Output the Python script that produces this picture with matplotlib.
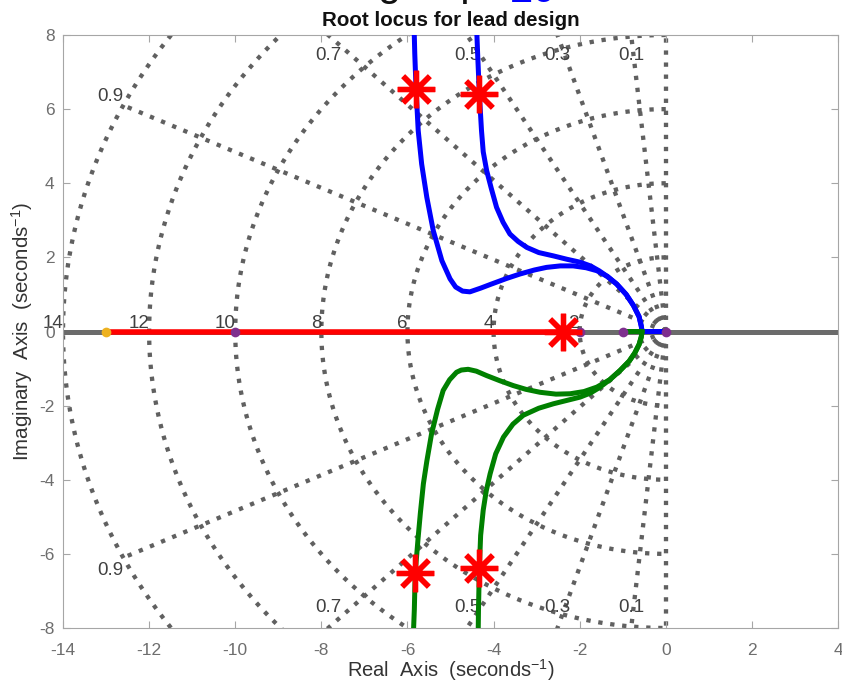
import numpy as np
import matplotlib
matplotlib.use('Agg')
import matplotlib.pyplot as plt

plt.rcParams['font.family'] = ['Liberation Sans', 'DejaVu Sans']
plt.rcParams['mathtext.fontset'] = 'custom'
plt.rcParams['mathtext.rm'] = 'Liberation Sans'
plt.rcParams['mathtext.default'] = 'regular'
plt.rcParams['axes.unicode_minus'] = False

# ---------------- data ----------------
title = 'Root locus for lead design'
xlabel = 'Real  Axis  (seconds$^{-1}$)'
ylabel = 'Imaginary  Axis  (seconds$^{-1}$)'
x_ticks = [-14, -12, -10, -8, -6, -4, -2, 0, 2, 4]
y_ticks = [-8, -6, -4, -2, 0, 2, 4, 6, 8]

zeta_values = [0.0, 0.1, 0.3, 0.5, 0.7, 0.9]
zeta_labels = ['', '0.1', '0.3', '0.5', '0.7', '0.9']
wn_values = [2, 4, 6, 8, 10, 12, 14]
wn_labels = ['2', '4', '6', '8', '10', '12', '14']

# upper (blue) branches: from the pole at 0 to the top
blue_a_x = [0.0, -0.55, -0.57, -0.62, -0.75, -0.92, -1.14, -1.35, -1.60, -1.85, -2.15, -2.45,
            -2.77, -3.05, -3.39, -3.70, -4.05, -4.30, -4.55, -4.72, -4.88, -5.01, -5.20,
            -5.40, -5.55, -5.67, -5.75, -5.80, -5.83, -5.85]
blue_a_y = [0.0, 0.0, 0.15, 0.40, 0.70, 1.00, 1.28, 1.48, 1.64, 1.72, 1.77, 1.77,
            1.73, 1.66, 1.55, 1.43, 1.28, 1.17, 1.07, 1.09, 1.20, 1.42, 1.91,
            2.72, 3.62, 4.52, 5.42, 6.55, 7.50, 8.40]
blue_b_x = [-0.55, -0.57, -0.62, -0.75, -0.92, -1.14, -1.35, -1.55, -1.75, -1.99, -2.30, -2.61,
            -2.95, -3.23, -3.43, -3.62, -3.78, -3.93, -4.05, -4.16, -4.24, -4.28, -4.33,
            -4.37, -4.40]
blue_b_y = [0.0, 0.15, 0.40, 0.70, 1.00, 1.28, 1.48, 1.64, 1.77, 1.87, 1.95, 2.04,
            2.13, 2.27, 2.43, 2.63, 2.95, 3.35, 3.85, 4.34, 4.85, 5.42, 6.41,
            7.50, 8.40]

# lower (green) branches: from the pole at -1 to the bottom
green_a_x = [-1.0, -0.55, -0.57, -0.62, -0.72, -0.85, -1.06, -1.30, -1.60, -1.90, -2.22, -2.55,
             -2.92, -3.25, -3.54, -3.85, -4.16, -4.40, -4.59, -4.75, -4.86, -5.02, -5.17,
             -5.30, -5.44, -5.55, -5.63, -5.70, -5.75, -5.82, -5.84, -5.87]
green_a_y = [0.0, 0.0, -0.15, -0.35, -0.58, -0.80, -1.05, -1.30, -1.50, -1.62, -1.68, -1.69,
             -1.64, -1.56, -1.46, -1.33, -1.19, -1.07, -1.02, -1.04, -1.10, -1.30, -1.59,
             -2.10, -2.76, -3.50, -4.11, -4.90, -5.54, -6.52, -7.50, -8.40]
green_b_x = [-0.55, -0.57, -0.62, -0.72, -0.85, -1.06, -1.30, -1.55, -1.75, -1.99, -2.30, -2.61,
             -2.95, -3.31, -3.55, -3.77, -3.95, -4.08, -4.17, -4.24, -4.30, -4.33, -4.35, -4.36]
green_b_y = [0.0, -0.15, -0.35, -0.58, -0.80, -1.05, -1.30, -1.52, -1.66, -1.77, -1.86, -1.95,
             -2.07, -2.26, -2.50, -2.85, -3.30, -3.84, -4.30, -4.82, -5.50, -6.39, -7.50, -8.40]

# real-axis branch (red)
red_x = [-13.0, -2.0]
red_y = [0.0, 0.0]

# open-loop markers
purple_x = [-10.0, -2.0, -1.0, 0.0]
orange_x = [-13.0]

# selected closed-loop poles
cl_x = [-5.80, -4.33, -2.39, -5.82, -4.33]
cl_y = [6.55, 6.41, 0.0, -6.52, -6.39]

# ---------------- styles ----------------
GRID_C = '#606060'
TXT_C = '#404040'
TICK_C = '#6e6e6e'
SPINE_C = '#a6a6a6'
DOT = (0, (1, 1.8))
R_MAX = 14.0
GL_FS = 13.5

fig = plt.figure(figsize=(8.42, 6.83), dpi=100)
ax = fig.add_axes([63 / 842, 55 / 683, 775 / 842, 593 / 683])
ax.set_xlim(-14, 4)
ax.set_ylim(-8, 8)

# damping-ratio rays
for z, lab in zip(zeta_values, zeta_labels):
    th = np.arccos(z)
    for s in (1, -1):
        xe, ye = -R_MAX * np.cos(th), s * R_MAX * np.sin(th)
        ax.plot([0, xe], [0, ye], linestyle=DOT, lw=3.1, color=GRID_C,
                dash_capstyle='butt', zorder=1)
        if not lab:
            continue
        if abs(ye) <= 7.0:
            ax.text(xe, ye + s * 0.12, lab, ha='right',
                    va='baseline' if s > 0 else 'top', fontsize=GL_FS, color=TXT_C, zorder=1.5)
        else:
            xc = -8.0 / np.tan(th)
            ax.text(xc, s * 7.45, lab, ha='center', va='center',
                    fontsize=GL_FS, color=TXT_C, zorder=1.5)

# natural-frequency circles
ang = np.linspace(np.pi / 2, 3 * np.pi / 2, 400)
for wn, lab in zip(wn_values, wn_labels):
    ax.plot(wn * np.cos(ang), wn * np.sin(ang), linestyle=DOT, lw=3.1, color=GRID_C,
            dash_capstyle='butt', zorder=1)
    ax.text(-wn, 0.1, lab, ha='right', va='baseline', fontsize=GL_FS, color=TXT_C, zorder=1.5)

# real axis
ax.plot([-14, 4], [0, 0], color='#6b6b6b', lw=3.6, zorder=2, solid_capstyle='butt')

# loci
ax.plot(red_x, red_y, color='#ff0000', lw=4.0, zorder=3, solid_capstyle='butt')
ax.plot(blue_a_x, blue_a_y, color='#0000ff', lw=3.6, zorder=3)
ax.plot(blue_b_x, blue_b_y, color='#0000ff', lw=3.6, zorder=3)
ax.plot(green_a_x, green_a_y, color='#008000', lw=3.6, zorder=3)
ax.plot(green_b_x, green_b_y, color='#008000', lw=3.6, zorder=3)

ax.plot(purple_x, [0] * len(purple_x), 'o', color='#7e2f8e', ms=7, mew=0, zorder=4)
ax.plot(orange_x, [0] * len(orange_x), 'o', color='#edb120', ms=7, mew=0, zorder=4)

ax.plot(cl_x, cl_y, linestyle='none', marker=(8, 2, 0), ms=27, mew=3.8,
        color='#ff0000', zorder=5)

# axes styling
ax.set_xticks(x_ticks)
ax.set_yticks(y_ticks)
ax.tick_params(direction='in', length=5, width=0.8, color=SPINE_C, labelcolor=TICK_C,
               labelsize=12.5, top=True, right=True)
ax.tick_params(axis='x', pad=11)
ax.tick_params(axis='y', pad=6)
for sp in ax.spines.values():
    sp.set_color(SPINE_C)
    sp.set_linewidth(0.8)

ax.set_xlabel(xlabel, fontsize=14.5, color='#333333', labelpad=-0.5)
ax.set_ylabel(ylabel, fontsize=14.8, color='#333333', labelpad=3)
ax.set_title(title, fontsize=14.8, fontweight='bold', color='#111111', pad=6.5)

# cropped super-title sliver at the very top
fig.text(0.574, 1 + 5.0 / 683, 'group', fontsize=30, color='#111111', ha='right', va='baseline')
fig.text(0.606, 1 - 1.5 / 683, '20', fontsize=30, color='#0000ff', ha='left', va='baseline')

fig.savefig('out.png', dpi=100)
